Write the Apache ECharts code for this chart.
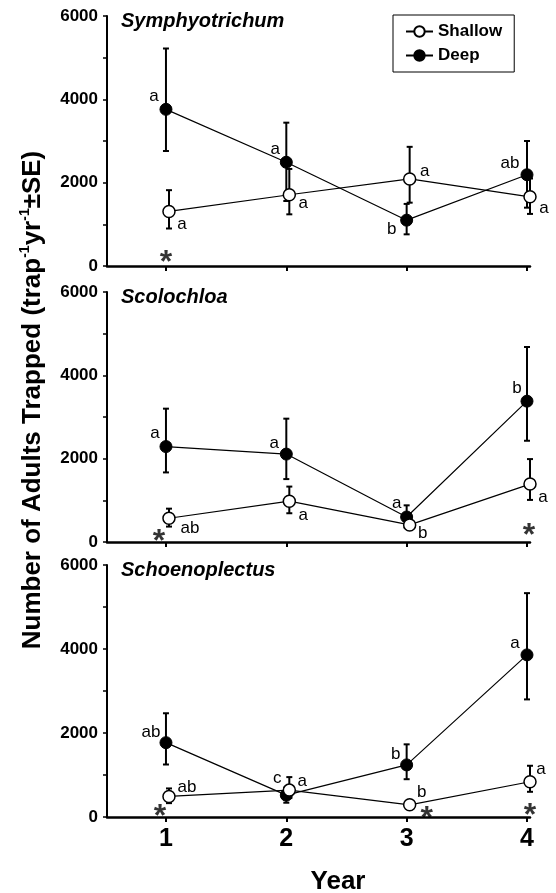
<!DOCTYPE html>
<html>
<head>
<meta charset="utf-8">
<script src="https://cdn.jsdelivr.net/npm/echarts@6/dist/echarts.min.js"></script>
<style>
  html, body { margin: 0; padding: 0; background: #fff; }
  #chart { width: 556px; height: 893px; }
</style>
</head>
<body>
<div id="chart"></div>
<script>
// 年份
const years = [1, 2, 3, 4]

// Symphyotrichum
const symShallow = [1310, 1710, 2090, 1660]
const symShallowLo = [900, 1240, 1520, 1250]
const symShallowHi = [1820, 2330, 2860, 2100]
const symDeep = [3760, 2490, 1100, 2190]
const symDeepLo = [2760, 1560, 760, 1400]
const symDeepHi = [5220, 3440, 1490, 3000]
const symShallowLetters = ['a', 'a', 'a', 'a']
const symDeepLetters = ['a', 'a', 'b', 'ab']
const symStars = [1]

// Scolochloa
const scoShallow = [570, 980, 410, 1390]
const scoShallowLo = [370, 690, 300, 1010]
const scoShallowHi = [800, 1330, 520, 1990]
const scoDeep = [2290, 2110, 600, 3380]
const scoDeepLo = [1670, 1510, 350, 2430]
const scoDeepHi = [3200, 2960, 880, 4680]
const scoShallowLetters = ['ab', 'a', 'b', 'a']
const scoDeepLetters = ['a', 'a', 'a', 'b']
const scoStars = [1, 4]

// Schoenoplectus
const schShallow = [490, 640, 290, 840]
const schShallowLo = [330, 450, 200, 600]
const schShallowHi = [680, 950, 380, 1220]
const schDeep = [1770, 520, 1240, 3860]
const schDeepLo = [1250, 340, 900, 2800]
const schDeepHi = [2470, 700, 1730, 5330]
const schShallowLetters = ['ab', 'a', 'b', 'a']
const schDeepLetters = ['ab', 'c', 'b', 'a']
const schStars = [1, 3, 4]

const yTicks = [0, 2000, 4000, 6000]

const FONT = 'Liberation Sans, Arial, sans-serif'
const shallowShift = 0.025

// 面板配置（位置和样式）
const panels = [
  {
    title: 'Symphyotrichum', top: 16, height: 250,
    shallow: symShallow, shallowLo: symShallowLo, shallowHi: symShallowHi,
    deep: symDeep, deepLo: symDeepLo, deepHi: symDeepHi,
    shallowLetters: symShallowLetters, deepLetters: symDeepLetters, stars: symStars,
    shallowOff: [[13, 13], [14, 9], [15, -8], [14, 11]],
    deepOff: [[-12, -13], [-11, -13], [-15, 9], [-17, -11]],
    starOff: [[0, -3]]
  },
  {
    title: 'Scolochloa', top: 292, height: 250,
    shallow: scoShallow, shallowLo: scoShallowLo, shallowHi: scoShallowHi,
    deep: scoDeep, deepLo: scoDeepLo, deepHi: scoDeepHi,
    shallowLetters: scoShallowLetters, deepLetters: scoDeepLetters, stars: scoStars,
    shallowOff: [[21, 10], [14, 14], [13, 8], [13, 13]],
    deepOff: [[-11, -13], [-12, -11], [-10, -14], [-10, -13]],
    starOff: [[-7, 0], [2, -6]]
  },
  {
    title: 'Schoenoplectus', top: 565, height: 252,
    shallow: schShallow, shallowLo: schShallowLo, shallowHi: schShallowHi,
    deep: schDeep, deepLo: schDeepLo, deepHi: schDeepHi,
    shallowLetters: schShallowLetters, deepLetters: schDeepLetters, stars: schStars,
    shallowOff: [[18, -9], [13, -9], [12, -13], [11, -12]],
    deepOff: [[-15, -10], [-9, -17], [-11, -11], [-12, -12]],
    starOff: [[-6, 0], [20, 2], [3, -1]]
  }
]

const grids = []
const xAxes = []
const yAxes = []
const titles = []
const series = []

function letterLabel(text, off) {
  return {
    show: true,
    position: 'inside',
    offset: off,
    formatter: text,
    color: '#000',
    fontFamily: FONT,
    fontSize: 17
  }
}

// 误差线
function errorRender(params, api) {
  const top = api.coord([api.value(0), api.value(2)])
  const bot = api.coord([api.value(0), api.value(1)])
  const w = 3
  const style = { stroke: '#000', lineWidth: 2 }
  return {
    type: 'group',
    children: [
      { type: 'line', shape: { x1: top[0], y1: top[1], x2: bot[0], y2: bot[1] }, style },
      { type: 'line', shape: { x1: top[0] - w, y1: top[1], x2: top[0] + w, y2: top[1] }, style },
      { type: 'line', shape: { x1: bot[0] - w, y1: bot[1], x2: bot[0] + w, y2: bot[1] }, style }
    ]
  }
}

panels.forEach((p, i) => {
  const last = i === panels.length - 1
  grids.push({ left: 107, width: 423, top: p.top, height: p.height })
  xAxes.push({
    type: 'value',
    gridIndex: i,
    min: 0.51,
    max: 4.025,
    axisLine: { show: true, onZero: false, lineStyle: { color: '#000', width: 2.5 } },
    axisTick: { show: true, customValues: years, length: 5, lineStyle: { color: '#000', width: 2 } },
    axisLabel: {
      show: last,
      customValues: years,
      color: '#000',
      fontFamily: FONT,
      fontWeight: 'bold',
      fontSize: 25,
      margin: 10
    },
    splitLine: { show: false }
  })
  yAxes.push({
    type: 'value',
    gridIndex: i,
    min: 0,
    max: 6000,
    interval: 1000,
    axisLine: { show: true, lineStyle: { color: '#000', width: 2 } },
    axisTick: { show: true, length: 4, lineStyle: { color: '#000', width: 1.5 } },
    axisLabel: {
      color: '#000',
      fontFamily: FONT,
      fontWeight: 'bold',
      fontSize: 17,
      margin: 9,
      formatter: (v) => (yTicks.indexOf(v) >= 0 ? String(v) : '')
    },
    splitLine: { show: false }
  })
  titles.push({
    text: p.title,
    left: 121,
    top: p.top - 5,
    padding: 0,
    textStyle: { fontFamily: FONT, fontWeight: 'bold', fontStyle: 'italic', fontSize: 20, color: '#000' }
  })

  const errData = []
  years.forEach((y, k) => {
    errData.push([y + shallowShift, p.shallowLo[k], p.shallowHi[k]])
    errData.push([y, p.deepLo[k], p.deepHi[k]])
  })
  series.push({
    type: 'custom',
    xAxisIndex: i,
    yAxisIndex: i,
    z: 1,
    renderItem: errorRender,
    data: errData
  })
  series.push({
    name: 'Deep',
    type: 'line',
    xAxisIndex: i,
    yAxisIndex: i,
    z: 3,
    symbol: 'circle',
    symbolSize: 12,
    itemStyle: { color: '#000', borderColor: '#000', borderWidth: 1 },
    lineStyle: { color: '#000', width: 1.2 },
    data: years.map((y, k) => ({ value: [y, p.deep[k]], label: letterLabel(p.deepLetters[k], p.deepOff[k]) }))
  })
  series.push({
    name: 'Shallow',
    type: 'line',
    xAxisIndex: i,
    yAxisIndex: i,
    z: 4,
    symbol: 'circle',
    symbolSize: 12,
    itemStyle: { color: '#fff', borderColor: '#000', borderWidth: 1.5 },
    lineStyle: { color: '#000', width: 1.2 },
    data: years.map((y, k) => ({ value: [y + shallowShift, p.shallow[k]], label: letterLabel(p.shallowLetters[k], p.shallowOff[k]) }))
  })
  // 显著性星号
  series.push({
    type: 'scatter',
    xAxisIndex: i,
    yAxisIndex: i,
    z: 5,
    symbolSize: 1,
    itemStyle: { color: 'rgba(0,0,0,0)' },
    data: p.stars.map((s, k) => ({
      value: [s, 0],
      label: {
        show: true,
        position: 'inside',
        offset: p.starOff[k],
        formatter: '*',
        color: '#000',
        fontFamily: FONT,
        fontWeight: 'bold',
        fontSize: 32
      }
    }))
  })
})

const chart = echarts.init(document.getElementById('chart'))
chart.setOption({
  animation: false,
  backgroundColor: '#fff',
  title: titles,
  legend: {
    data: ['Shallow', 'Deep'],
    orient: 'vertical',
    left: 393,
    top: 15,
    padding: [8, 12, 8, 12],
    itemGap: 7,
    itemWidth: 27,
    itemHeight: 13,
    borderColor: '#000',
    borderWidth: 1,
    textStyle: { fontFamily: FONT, fontWeight: 'bold', fontSize: 17, color: '#000' }
  },
  grid: grids,
  xAxis: xAxes,
  yAxis: yAxes,
  series: series,
  graphic: [
    {
      type: 'text',
      x: 33,
      y: 400,
      rotation: Math.PI / 2,
      style: {
        text: 'Number of Adults Trapped (trap{sup|-1}yr{sup|-1}±SE)',
        font: 'bold 26px ' + FONT,
        fill: '#000',
        align: 'center',
        verticalAlign: 'middle',
        rich: {
          sup: { fontSize: 14, fontWeight: 'bold', fontFamily: FONT, verticalAlign: 'top', lineHeight: 30 }
        }
      }
    },
    {
      type: 'text',
      x: 338,
      y: 882,
      style: {
        text: 'Year',
        font: 'bold 26px ' + FONT,
        fill: '#000',
        align: 'center',
        verticalAlign: 'middle'
      }
    }
  ]
})
</script>
</body>
</html>
